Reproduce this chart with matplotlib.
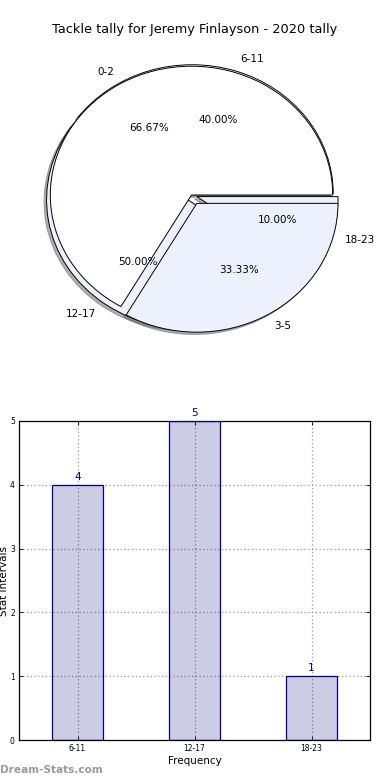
import numpy as np
import matplotlib
matplotlib.use("Agg")
import matplotlib.pyplot as plt

title = "Tackle tally for Jeremy Finlayson - 2020 tally"

# pie 1: small intervals
pie1_labels = ["0-2", "3-5"]
pie1_values = [2, 1]
# pie 2: larger intervals (same as the bar chart)
pie2_labels = ["6-11", "12-17", "18-23"]
pie2_values = [4, 5, 1]

bar_labels = ["6-11", "12-17", "18-23"]
bar_values = [4, 5, 1]

light_blue = "#ecf1fd"

fig = plt.figure(figsize=(3.9, 7.8), dpi=100)
fig.patch.set_facecolor("white")

fig.text(0.5, 1 - 30 / 780, title, ha="center", va="center", fontsize=9.3)

shadow = {"ox": -0.013, "oy": -0.013, "shade": 0.6}

# pie chart (stretched like the original, no equal aspect)
ax1 = fig.add_axes([15 / 390, 1 - 356 / 780, 353 / 390, 322 / 780])
ax1.pie(pie2_values, labels=pie2_labels, autopct="%.2f%%",
        colors=["white", light_blue, light_blue],
        explode=[0.012, 0.045, 0.04], shadow=shadow,
        wedgeprops=dict(edgecolor="black", linewidth=0.7),
        textprops=dict(fontsize=7.5))
ax1.pie(pie1_values, labels=pie1_labels, autopct="%.2f%%",
        colors=["white", light_blue],
        explode=[0, 0.075], shadow=shadow,
        wedgeprops=dict(edgecolor="black", linewidth=0.7),
        textprops=dict(fontsize=7.5))
ax1.set_aspect("auto")
ax1.set_xlim(-1.25, 1.25)
ax1.set_ylim(-1.25, 1.25)
ax1.axis("off")

# bar chart
ax2 = fig.add_axes([19 / 390, 1 - 740 / 780, 351 / 390, 319 / 780])
x = np.arange(len(bar_labels))
ax2.bar(x, bar_values, width=0.44, color="navy", alpha=0.2,
        edgecolor="none", zorder=2)
ax2.bar(x, bar_values, width=0.44, fill=False, edgecolor="navy",
        linewidth=0.9, zorder=3)
for xi, v in zip(x, bar_values):
    ax2.text(xi, v + 0.05, str(v), ha="center", va="bottom",
             color="navy", fontsize=7.5)
ax2.set_xlim(-0.5, 2.5)
ax2.set_ylim(0, 5)
ax2.set_xticks(x)
ax2.set_xticklabels(bar_labels)
ax2.set_yticks(range(0, 6))
ax2.tick_params(direction="in", top=True, right=True, labelsize=5.5,
                length=3, width=0.6, pad=3)
ax2.grid(True, linestyle=(0, (1, 2)), color="#999999", linewidth=0.9, zorder=1)
ax2.set_axisbelow(True)
for s in ax2.spines.values():
    s.set_linewidth(0.9)
ax2.set_xlabel("Frequency", fontsize=7.5, labelpad=2)
ax2.set_ylabel("Stat Intervals", fontsize=7.5, labelpad=1)

fig.text(0.0, 1 - 770 / 780, "Dream-Stats.com", ha="left", va="center",
         fontsize=7.6, color="#9a9a9a", fontweight="bold")

fig.savefig("out.png", dpi=100)
